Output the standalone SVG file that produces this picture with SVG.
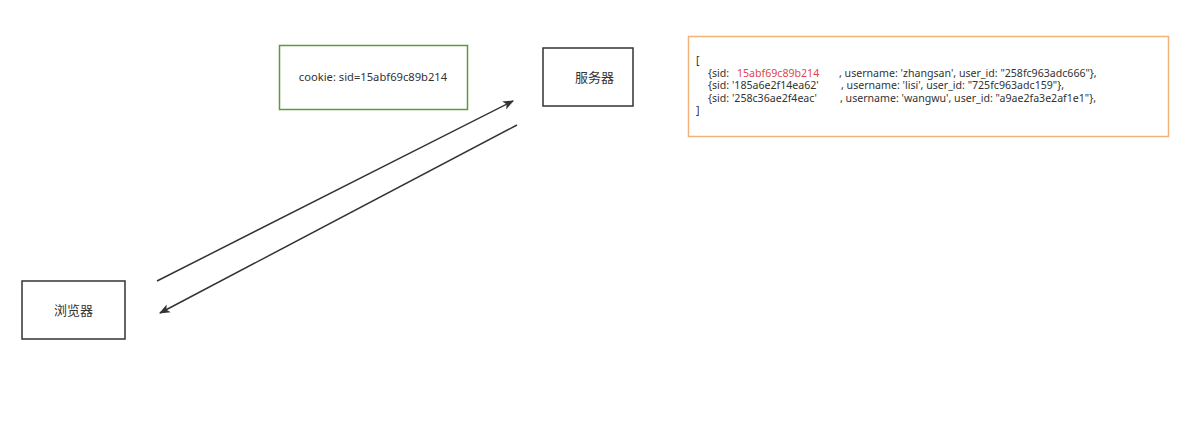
<svg xmlns="http://www.w3.org/2000/svg" width="1185" height="432" viewBox="0 0 1185 432">
<style>
text{font-family:"Noto Sans","Noto Sans CJK SC",sans-serif;fill:#333;}
.box{fill:#fff;stroke:#333;stroke-width:1.5;}
.lbl{font-size:13px;text-anchor:middle;}
.code{font-size:10.6px;}
.red{fill:#e0474c;}
.conn{stroke:#333;stroke-width:1.5;fill:none;}
</style>
<defs>
<marker id="ah" viewBox="0 0 10 10" refX="9" refY="5" markerWidth="11" markerHeight="11" orient="auto" markerUnits="userSpaceOnUse">
<path d="M0,1 L10,5 L0,9 L2.5,5 Z" fill="#333"/>
</marker>
</defs>
<rect width="1185" height="432" fill="#fff"/>
<g id="cookie">
<rect x="279.5" y="45.5" width="188" height="64" fill="#fff" stroke="#5e9a35" stroke-width="1.5"/>
<text x="373" y="81" class="lbl" style="font-size:11.2px">cookie: sid=15abf69c89b214</text>
</g>
<g id="server">
<rect x="543" y="48" width="90" height="58" class="box"/>
<text x="594.5" y="82" class="lbl">服务器</text>
</g>
<g id="browser">
<rect x="22" y="281" width="103" height="58" class="box"/>
<text x="73.5" y="315" class="lbl">浏览器</text>
</g>
<g id="sessions">
<rect x="688.5" y="36.5" width="480" height="100" fill="#fff" stroke="#f3b27a" stroke-width="1.5"/>
<text class="code" x="696" y="64">[</text>
<text class="code" y="77"><tspan x="708">{sid:</tspan><tspan x="737" class="red">15abf69c89b214</tspan><tspan x="839">, username: 'zhangsan', user_id: "258fc963adc666"},</tspan></text>
<text class="code" y="89"><tspan x="708">{sid: '185a6e2f14ea62'</tspan><tspan x="841">, username: 'lisi', user_id: "725fc963adc159"},</tspan></text>
<text class="code" y="101.5"><tspan x="708">{sid: '258c36ae2f4eac'</tspan><tspan x="840">, username: 'wangwu', user_id: "a9ae2fa3e2af1e1"},</tspan></text>
<text class="code" x="696" y="114">]</text>
</g>
<g id="connectors">
<line x1="157" y1="281" x2="513" y2="101" class="conn" marker-end="url(#ah)"/>
<line x1="517" y1="125" x2="160" y2="313" class="conn" marker-end="url(#ah)"/>
</g>
</svg>
